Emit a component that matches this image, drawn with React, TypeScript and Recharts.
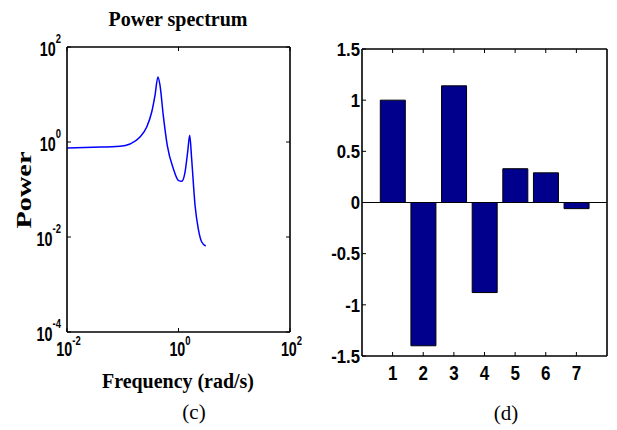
import React from 'react';
import {
  LineChart,
  Line,
  BarChart,
  Bar,
  XAxis,
  YAxis,
  ReferenceLine,
} from 'recharts';

// (c) power spectrum
const freq = [
  0.0101, 0.0297, 0.0893, 0.135, 0.204, 0.269, 0.331, 0.379, 0.428, 0.466, 0.533, 0.629,
  0.807, 0.991, 1.14, 1.31, 1.46, 1.59, 1.72, 1.98, 2.26, 2.61, 3.08,
];
const power = [
  0.748, 0.773, 0.811, 0.908, 1.27, 2.07, 4.28, 9.6, 23.4, 15.6, 3.65, 0.853,
  0.275, 0.156, 0.149, 0.233, 0.615, 1.38, 0.448, 0.0465, 0.015, 0.00785, 0.00647,
];
const freqTicks = [0.01, 1, 100];
const powerTicks = [0.0001, 0.01, 1, 100];

// (d) bar values
const bins = ['1', '2', '3', '4', '5', '6', '7'];
const weights = [1.0, -1.4, 1.14, -0.88, 0.33, 0.29, -0.06];
const weightTicks = [-1.5, -1, -0.5, 0, 0.5, 1, 1.5];

const spectrum = freq.map((f, i) => ({ f, p: power[i] }));
const barData = bins.map((b, i) => ({ bin: b, w: weights[i] }));

const SANS = "'Liberation Sans', Arial, sans-serif";
const SERIF = "'Liberation Serif', 'Times New Roman', serif";

const exp = (v: number) => Math.round(Math.log10(v));
// squeeze text horizontally around its anchor, like the condensed MATLAB font
const squeeze = (x: number, k: number) => `translate(${x} 0) scale(${k} 1) translate(${-x} 0)`;

const LogXTick = ({ x, y, payload }: any) => (
  <g>
    <line x1={x} x2={x} y1={y} y2={y - 4} stroke="#000" />
    <text x={x + 1.5} y={y + 24} transform={squeeze(x + 1.5, 0.7)} textAnchor="middle" fontFamily={SANS}
      fontWeight="bold" fontSize={20.5} fill="#000">
      <tspan>10</tspan>
      <tspan dy={-11} fontSize={13.5}>{exp(payload.value)}</tspan>
    </text>
  </g>
);

const LogYTick = ({ x, y, payload }: any) => (
  <g>
    <line x1={x} x2={x + 4} y1={y} y2={y} stroke="#000" />
    <text x={x - 6} y={y + 9.5} transform={squeeze(x - 6, 0.7)} textAnchor="end" fontFamily={SANS}
      fontWeight="bold" fontSize={20.5} fill="#000">
      <tspan>10</tspan>
      <tspan dy={-13} fontSize={13.5}>{exp(payload.value)}</tspan>
    </text>
  </g>
);

const TopTick = ({ x, y }: any) => <line x1={x} x2={x} y1={y} y2={y + 4} stroke="#000" />;
const RightTick = ({ x, y }: any) => <line x1={x} x2={x - 4} y1={y} y2={y} stroke="#000" />;

const BarXTick = ({ x, y, payload }: any) => (
  <g>
    <line x1={x} x2={x} y1={y} y2={y - 4} stroke="#000" />
    <text x={x} y={y + 24} transform={squeeze(x, 0.85)} textAnchor="middle" fontFamily={SANS} fontWeight="bold"
      fontSize={20} fill="#000">
      {payload.value}
    </text>
  </g>
);

const BarYTick = ({ x, y, payload }: any) => (
  <g>
    <line x1={x} x2={x + 4} y1={y} y2={y} stroke="#000" />
    <text x={x - 2} y={y + 6.7} transform={squeeze(x - 2, 0.88)} textAnchor="end" fontFamily={SANS}
      fontWeight="bold" fontSize={19} fill="#000">
      {payload.value}
    </text>
  </g>
);

const frame = { stroke: '#000', strokeWidth: 1.6 };

export default function App() {
  return (
    <div style={{ position: 'absolute', left: 0, top: 0, width: 617, height: 430, background: '#fff' }}>
      <div style={{ position: 'absolute', left: 0, top: 0 }}>
        <LineChart width={320} height={430} data={spectrum} margin={{ top: 46, right: 29, bottom: 97, left: 66 }}>
          <XAxis dataKey="f" type="number" scale="log" domain={[0.01, 100]} ticks={freqTicks} allowDataOverflow
            height={1} tickSize={0} tickMargin={0} tickLine={false} axisLine={frame} tick={<LogXTick />} interval={0} />
          <XAxis xAxisId="top" orientation="top" dataKey="f" type="number" scale="log" domain={[0.01, 100]} ticks={freqTicks}
            allowDataOverflow height={1} tickSize={0} tickMargin={0} tickLine={false} axisLine={frame} tick={<TopTick />} interval={0} />
          <YAxis type="number" scale="log" domain={[0.0001, 100]} ticks={powerTicks} allowDataOverflow
            width={1} tickSize={0} tickMargin={0} tickLine={false} axisLine={frame} tick={<LogYTick />} interval={0} />
          <YAxis yAxisId="right" orientation="right" type="number" scale="log" domain={[0.0001, 100]} ticks={powerTicks}
            allowDataOverflow width={1} tickSize={0} tickMargin={0} tickLine={false} axisLine={frame} tick={<RightTick />} interval={0} />
          <Line dataKey="p" type="monotone" stroke="#0000ff" strokeWidth={1.5} dot={false} isAnimationActive={false} />
        </LineChart>
      </div>
      <div style={{ position: 'absolute', left: 300, top: 0 }}>
        <BarChart width={317} height={430} data={barData} margin={{ top: 48, right: 9, bottom: 73, left: 61 }} barSize={25}>
          <XAxis dataKey="bin" padding={{ left: 15.3, right: 15.3 }} height={1} tickSize={0} tickMargin={0}
            tickLine={false} axisLine={frame} tick={<BarXTick />} interval={0} />
          <XAxis xAxisId="top" orientation="top" dataKey="bin" padding={{ left: 15.3, right: 15.3 }} height={1} tickSize={0}
            tickMargin={0} tickLine={false} axisLine={frame} tick={<TopTick />} interval={0} />
          <YAxis type="number" domain={[-1.5, 1.5]} ticks={weightTicks} allowDataOverflow width={1} tickSize={0}
            tickMargin={0} tickLine={false} axisLine={frame} tick={<BarYTick />} interval={0} />
          <YAxis yAxisId="right" orientation="right" type="number" domain={[-1.5, 1.5]} ticks={weightTicks} width={1}
            tickSize={0} tickMargin={0} tickLine={false} axisLine={frame} tick={<RightTick />} interval={0} />
          <ReferenceLine y={0} stroke="#000" strokeWidth={1.2} />
          <Bar dataKey="w" fill="#00008c" stroke="#000" strokeWidth={1} isAnimationActive={false} />
        </BarChart>
      </div>
      <svg width={617} height={430} style={{ position: 'absolute', left: 0, top: 0, pointerEvents: 'none' }}>
        <text x={178} y={26} textAnchor="middle" fontFamily={SERIF} fontWeight="bold" fontSize={20} textLength={139}
          lengthAdjust="spacingAndGlyphs">Power spectrum</text>
        <text x={31} y={190} transform="rotate(-90 31 190)" textAnchor="middle" fontFamily={SERIF} fontWeight="bold"
          fontSize={21} textLength={77} lengthAdjust="spacingAndGlyphs">Power</text>
        <text x={178} y={388} textAnchor="middle" fontFamily={SERIF} fontWeight="bold" fontSize={20} textLength={152}
          lengthAdjust="spacingAndGlyphs">Frequency (rad/s)</text>
        <text x={194} y={419} textAnchor="middle" fontFamily={SERIF} fontSize={21}>(c)</text>
        <text x={506} y={420} textAnchor="middle" fontFamily={SERIF} fontSize={21}>(d)</text>
      </svg>
    </div>
  );
}
